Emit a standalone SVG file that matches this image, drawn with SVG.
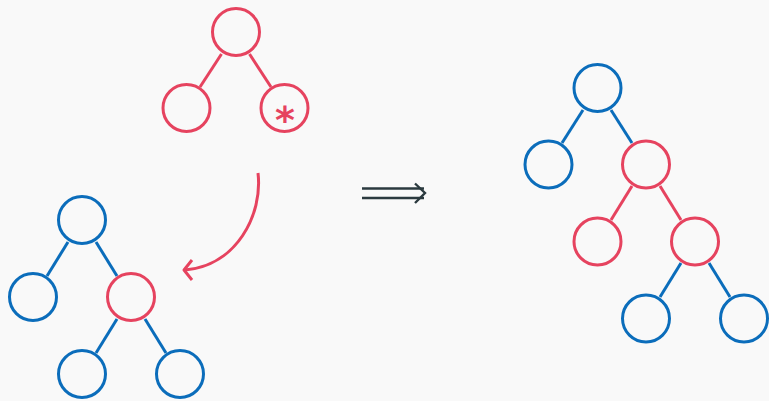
<svg xmlns="http://www.w3.org/2000/svg" width="769" height="401" viewBox="0 0 769 401">
  <style>
    .node { fill: none; stroke-width: 3; }
    .blue { stroke: #0b6dbb; }
    .red { stroke: #e6435f; }
    .edge { stroke-width: 3; stroke-linecap: butt; fill: none; }
    .mark { fill: #e6435f; font-family: "DejaVu Sans", sans-serif; font-weight: bold; font-size: 38px; text-anchor: middle; }
  </style>
  <rect width="769" height="401" fill="#f9f9f9"/>

  <!-- connectors -->
  <g id="connectors">
    <!-- top tree -->
    <line class="edge red" x1="221.5" y1="54" x2="200" y2="87"/>
    <line class="edge red" x1="249.5" y1="54" x2="271" y2="87"/>
    <!-- lower-left tree -->
    <line class="edge blue" x1="68" y1="242" x2="47" y2="276"/>
    <line class="edge blue" x1="96" y1="242" x2="117" y2="276"/>
    <line class="edge blue" x1="117" y1="319" x2="96" y2="353"/>
    <line class="edge blue" x1="145" y1="319" x2="166" y2="353"/>
    <!-- right tree -->
    <line class="edge blue" x1="583" y1="110" x2="562" y2="143"/>
    <line class="edge blue" x1="611" y1="110" x2="632" y2="143"/>
    <line class="edge red" x1="632" y1="186" x2="611" y2="220"/>
    <line class="edge red" x1="660" y1="186" x2="681" y2="220"/>
    <line class="edge blue" x1="681" y1="263" x2="660" y2="297"/>
    <line class="edge blue" x1="709" y1="263" x2="730" y2="297"/>
    <!-- curved arrow -->
    <path class="edge red" d="M258,173 C263,215 236,266 185,270"/>
    <path class="edge red" d="M192,260 L184,270 L192,280" stroke-linejoin="round"/>
    <!-- double arrow -->
    <g stroke="#2b3a3f" stroke-width="2.4" fill="none">
      <line x1="362" y1="188.5" x2="424" y2="188.5"/>
      <line x1="362" y1="198" x2="424" y2="198"/>
      <path d="M415,183.5 L425,193 L415,203"/>
    </g>
  </g>

  <!-- top tree -->
  <g id="t-root"><circle class="node red" cx="236" cy="32" r="23.5"/></g>
  <g id="t-left"><circle class="node red" cx="186.5" cy="108" r="23.5"/></g>
  <g id="t-right"><circle class="node red" cx="284.5" cy="108" r="23.5"/><text class="mark" x="285" y="133">*</text></g>

  <!-- lower-left tree -->
  <g id="a-root"><circle class="node blue" cx="82" cy="220" r="23.5"/></g>
  <g id="a-left"><circle class="node blue" cx="33" cy="297" r="23.5"/></g>
  <g id="a-right"><circle class="node red" cx="131" cy="297" r="23.5"/></g>
  <g id="a-rl"><circle class="node blue" cx="82" cy="374" r="23.5"/></g>
  <g id="a-rr"><circle class="node blue" cx="180" cy="374" r="23.5"/></g>

  <!-- right tree -->
  <g id="b-root"><circle class="node blue" cx="597.5" cy="88" r="23.5"/></g>
  <g id="b-left"><circle class="node blue" cx="548.5" cy="164.5" r="23.5"/></g>
  <g id="b-right"><circle class="node red" cx="646" cy="164.5" r="23.5"/></g>
  <g id="b-rl"><circle class="node red" cx="597.5" cy="241.5" r="23.5"/></g>
  <g id="b-rr"><circle class="node red" cx="695" cy="241.5" r="23.5"/></g>
  <g id="b-rrl"><circle class="node blue" cx="646" cy="318.5" r="23.5"/></g>
  <g id="b-rrr"><circle class="node blue" cx="744" cy="318.5" r="23.5"/></g>
</svg>
